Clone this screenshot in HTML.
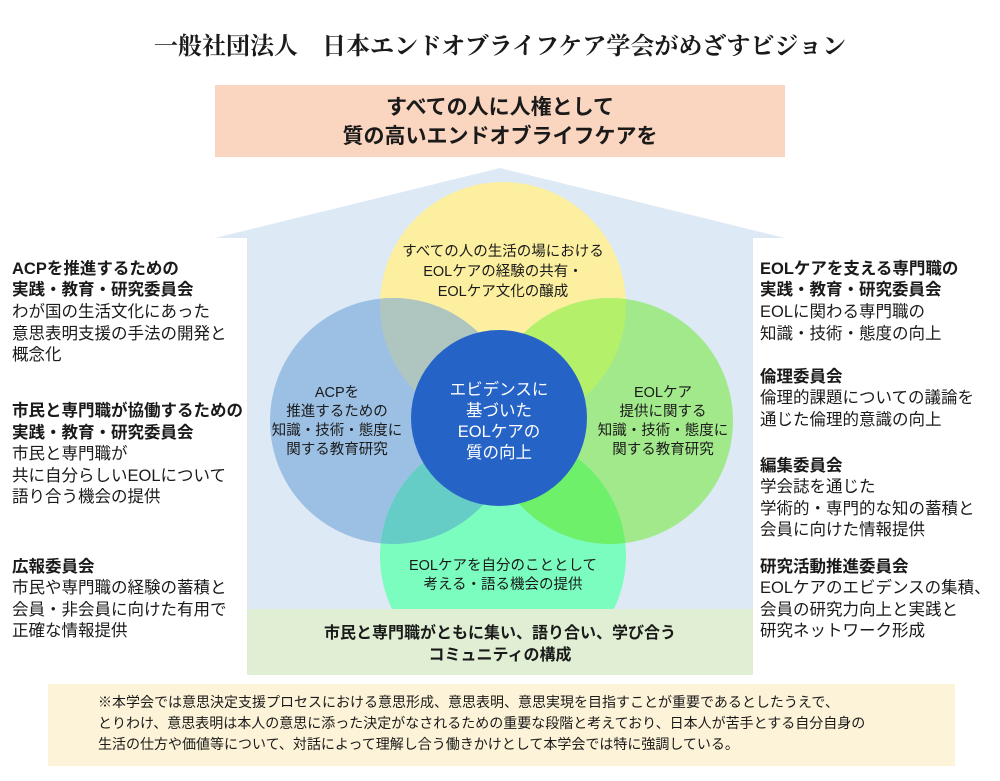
<!DOCTYPE html>
<html><head><meta charset="utf-8"><style>
body{margin:0;background:#fff;}
svg text{font-family:"Liberation Sans","Noto Sans CJK JP",sans-serif;fill:#1a1a1a;}
.b{font-weight:bold;}
</style></head><body>
<svg width="1000" height="776" viewBox="0 0 1000 776" xmlns="http://www.w3.org/2000/svg">
<defs>
<clipPath id="cY"><circle cx="503" cy="305" r="123"/></clipPath>
<clipPath id="cC"><circle cx="503" cy="556" r="123"/></clipPath>
<clipPath id="house"><rect x="247" y="150" width="506" height="459"/></clipPath>
</defs>
<text x="500" y="54" text-anchor="middle" font-size="24" font-weight="bold" style="font-family:'Liberation Serif','Noto Serif CJK SC',serif">一般社団法人　日本エンドオブライフケア学会がめざすビジョン</text>
<rect x="215" y="85" width="570" height="72" fill="#fad6c0"/>
<text x="500" y="114" text-anchor="middle" font-size="21" class="b">すべての人に人権として</text>
<text x="500" y="143" text-anchor="middle" font-size="21" class="b">質の高いエンドオブライフケアを</text>
<polygon points="215,238 500,168 785,238 753,238 753,675 247,675 247,238" fill="#dde9f5"/>
<g clip-path="url(#house)">
<circle cx="503" cy="305" r="123" fill="#fcef9f"/>
<circle cx="393" cy="421" r="123" fill="#9cc0e4"/>
<circle cx="610" cy="421" r="123" fill="#a2e98b"/>
<circle cx="503" cy="556" r="123" fill="#7cfdc0"/>
<g clip-path="url(#cY)"><circle cx="393" cy="421" r="123" fill="#afc5c0"/><circle cx="610" cy="421" r="123" fill="#b5f06a"/></g>
<g clip-path="url(#cC)"><circle cx="393" cy="421" r="123" fill="#66cdc6"/><circle cx="610" cy="421" r="123" fill="#6ef06a"/></g>
<circle cx="499" cy="418" r="88" fill="#2563c6"/>
</g>
<rect x="247" y="609" width="506" height="66" fill="#e0efd4"/>
<g font-size="14.5" text-anchor="middle">
<text x="503" y="256">すべての人の生活の場における</text>
<text x="503" y="276">EOLケアの経験の共有・</text>
<text x="503" y="296">EOLケア文化の醸成</text>
<text x="337" y="397">ACPを</text>
<text x="337" y="416">推進するための</text>
<text x="337" y="435">知識・技術・態度に</text>
<text x="337" y="454">関する教育研究</text>
<text x="663" y="397">EOLケア</text>
<text x="663" y="416">提供に関する</text>
<text x="663" y="435">知識・技術・態度に</text>
<text x="663" y="454">関する教育研究</text>
<text x="503" y="570">EOLケアを自分のこととして</text>
<text x="503" y="589">考える・語る機会の提供</text>
</g>
<g font-size="16.5" text-anchor="middle">
<text x="499" y="395" style="fill:#fff">エビデンスに</text>
<text x="499" y="416" style="fill:#fff">基づいた</text>
<text x="499" y="437" style="fill:#fff">EOLケアの</text>
<text x="499" y="458" style="fill:#fff">質の向上</text>
</g>
<text x="500" y="638" text-anchor="middle" font-size="16" class="b">市民と専門職がともに集い、語り合い、学び合う</text>
<text x="500" y="660" text-anchor="middle" font-size="16" class="b">コミュニティの構成</text>
<g font-size="16.5">
<text x="12" y="274" class="b">ACPを推進するための</text>
<text x="12" y="295" class="b">実践・教育・研究委員会</text>
<text x="12" y="317">わが国の生活文化にあった</text>
<text x="12" y="339">意思表明支援の手法の開発と</text>
<text x="12" y="360">概念化</text>
<text x="12" y="416" class="b">市民と専門職が協働するための</text>
<text x="12" y="438" class="b">実践・教育・研究委員会</text>
<text x="12" y="459">市民と専門職が</text>
<text x="12" y="481">共に自分らしいEOLについて</text>
<text x="12" y="502">語り合う機会の提供</text>
<text x="12" y="572" class="b">広報委員会</text>
<text x="12" y="593">市民や専門職の経験の蓄積と</text>
<text x="12" y="615">会員・非会員に向けた有用で</text>
<text x="12" y="636">正確な情報提供</text>
<text x="760" y="274" class="b">EOLケアを支える専門職の</text>
<text x="760" y="295" class="b">実践・教育・研究委員会</text>
<text x="760" y="317">EOLに関わる専門職の</text>
<text x="760" y="339">知識・技術・態度の向上</text>
<text x="760" y="382" class="b">倫理委員会</text>
<text x="760" y="403">倫理的課題についての議論を</text>
<text x="760" y="425">通じた倫理的意識の向上</text>
<text x="760" y="471" class="b">編集委員会</text>
<text x="760" y="492">学会誌を通じた</text>
<text x="760" y="514">学術的・専門的な知の蓄積と</text>
<text x="760" y="535">会員に向けた情報提供</text>
<text x="760" y="572" class="b">研究活動推進委員会</text>
<text x="760" y="593">EOLケアのエビデンスの集積、</text>
<text x="760" y="615">会員の研究力向上と実践と</text>
<text x="760" y="636">研究ネットワーク形成</text>
</g>
<rect x="48" y="684" width="907" height="82" fill="#fdf3d8"/>
<g font-size="14">
<text x="98" y="707">※本学会では意思決定支援プロセスにおける意思形成、意思表明、意思実現を目指すことが重要であるとしたうえで、</text>
<text x="98" y="728">とりわけ、意思表明は本人の意思に添った決定がなされるための重要な段階と考えており、日本人が苦手とする自分自身の</text>
<text x="98" y="749">生活の仕方や価値等について、対話によって理解し合う働きかけとして本学会では特に強調している。</text>
</g>
</svg>
</body></html>
